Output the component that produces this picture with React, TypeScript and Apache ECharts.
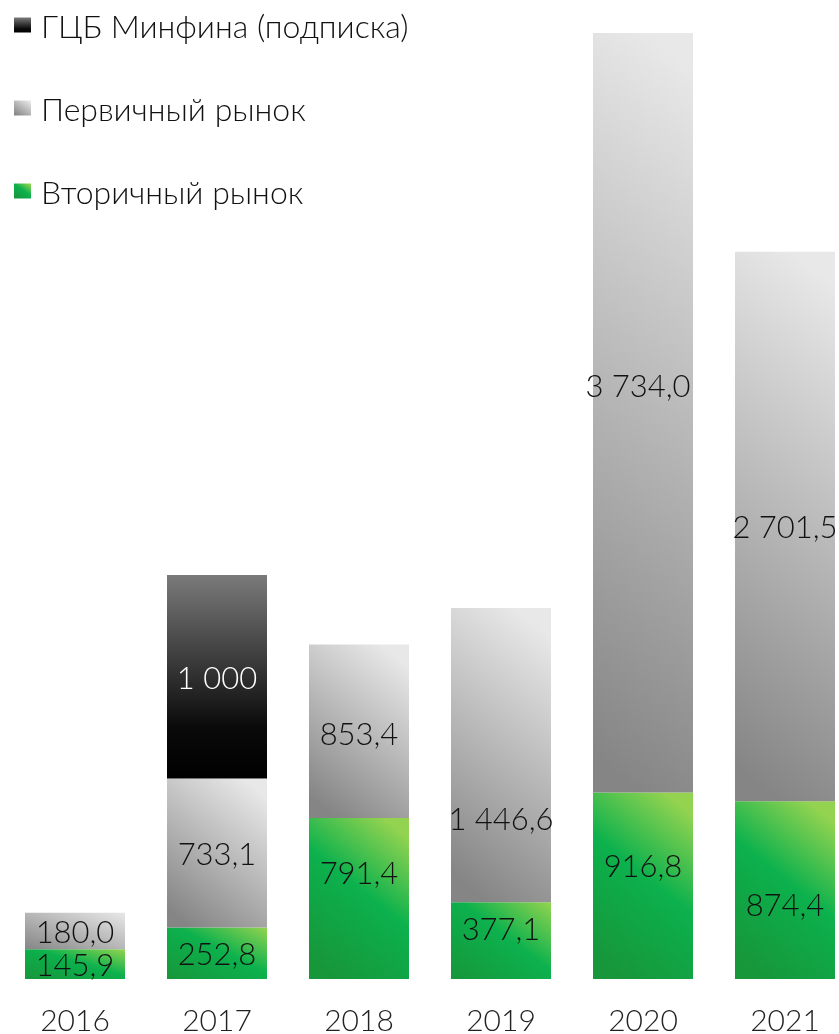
import React, { useEffect, useRef } from "react";
import * as echarts from "echarts";

const categories = ["2016", "2017", "2018", "2019", "2020", "2021"];
const secondaryMarket = [145.9, 252.8, 791.4, 377.1, 916.8, 874.4];
const primaryMarket = [180.0, 733.1, 853.4, 1446.6, 3734.0, 2701.5];
const minfinSubscription = [null, 1000, null, null, null, null];
const seriesNames = ["ГЦБ Минфина (подписка)", "Первичный рынок", "Вторичный рынок"];

// label vertical nudges (style only)
const secondaryLabelDy = [0, 0, -27, -13, -21, 14];
const primaryLabelDy = [0, 0, 2, 63, -28, 0];

const Y_MAX = 4813;
const PLOT_H = 980;

const fmt = (v: number, decimals: number) => {
  const fixed = v.toFixed(decimals);
  const [int, dec] = fixed.split(".");
  const intS = int.replace(/\B(?=(\d{3})+(?!\d))/g, " ");
  return dec ? intS + "," + dec : intS;
};

const FONT = "Lato, 'Noto Sans', sans-serif";

// diagonal gradient: light top-right, dark bottom-left, with a roughly constant slope in pixels
const diagGradient = (value: number, stops: { offset: number; color: string }[]) => {
  const h = Math.max(1, (value / Y_MAX) * PLOT_H);
  const d = Math.min(1, 80 / h);
  return new echarts.graphic.LinearGradient(0.5 + d / 2, 0, 0.5 - d / 2, 1, stops);
};

const greenStops = [
  { offset: 0, color: "#93d350" },
  { offset: 0.45, color: "#0cb14d" },
  { offset: 1, color: "#17963a" },
];
const greyStops = [
  { offset: 0, color: "#e8e8e8" },
  { offset: 1, color: "#858585" },
];

export default function App() {
  const ref = useRef<HTMLDivElement>(null);
  useEffect(() => {
    const chart = echarts.init(ref.current!, null, { renderer: "svg" });
    const black = new echarts.graphic.LinearGradient(0, 0, 0, 1, [
      { offset: 0, color: "#7a7a7a" },
      { offset: 0.75, color: "#0a0a0a" },
      { offset: 1, color: "#000000" },
    ]);
    const labelBase = {
      show: true,
      position: "inside" as const,
      fontFamily: FONT,
      fontWeight: 300,
      fontSize: 31,
      color: "#111111",
    };
    chart.setOption({
      animation: false,
      textStyle: { fontFamily: FONT },
      legend: {
        orient: "vertical",
        left: 9,
        top: 0,
        itemWidth: 17,
        itemHeight: 15,
        itemGap: 43,
        icon: "rect",
        data: seriesNames,
        textStyle: {
          fontFamily: FONT,
          fontWeight: 300,
          fontSize: 32,
          color: "#111111",
          lineHeight: 40,
          padding: [0, 0, 0, 5],
        },
      },
      grid: { left: 4, right: 0, top: 0, bottom: 54 },
      xAxis: {
        type: "category",
        data: categories,
        axisLine: { show: false },
        axisTick: { show: false },
        axisLabel: {
          fontFamily: FONT,
          fontWeight: 300,
          fontSize: 30,
          color: "#222222",
          margin: 25,
        },
      },
      yAxis: {
        type: "value",
        min: 0,
        max: Y_MAX,
        show: false,
        splitLine: { show: false },
      },
      series: [
        {
          name: seriesNames[2],
          type: "bar",
          stack: "total",
          barWidth: 100,
          itemStyle: { color: diagGradient(500, greenStops) },
          data: secondaryMarket.map((v, i) => ({
            value: v,
            itemStyle: { color: diagGradient(v, greenStops) },
            label: { offset: [0, secondaryLabelDy[i]] },
          })),
          label: { ...labelBase, formatter: (p: any) => fmt(p.value, 1) },
        },
        {
          name: seriesNames[1],
          type: "bar",
          stack: "total",
          barWidth: 100,
          itemStyle: { color: diagGradient(500, greyStops) },
          data: primaryMarket.map((v, i) => ({
            value: v,
            itemStyle: { color: diagGradient(v, greyStops) },
            label: { offset: [i === 4 ? -5 : 0, primaryLabelDy[i]] },
          })),
          label: { ...labelBase, formatter: (p: any) => fmt(p.value, 1) },
        },
        {
          name: seriesNames[0],
          type: "bar",
          stack: "total",
          barWidth: 100,
          itemStyle: { color: black },
          data: minfinSubscription,
          label: {
            ...labelBase,
            color: "#ffffff",
            formatter: (p: any) => (p.value == null ? "" : fmt(p.value, 0)),
          },
        },
      ],
    });
    return () => chart.dispose();
  }, []);
  return (
    <div style={{ position: "fixed", left: 0, top: 0, width: 839, height: 1034, overflow: "hidden" }}>
      <div ref={ref} style={{ width: 856, height: 1034 }} />
    </div>
  );
}
